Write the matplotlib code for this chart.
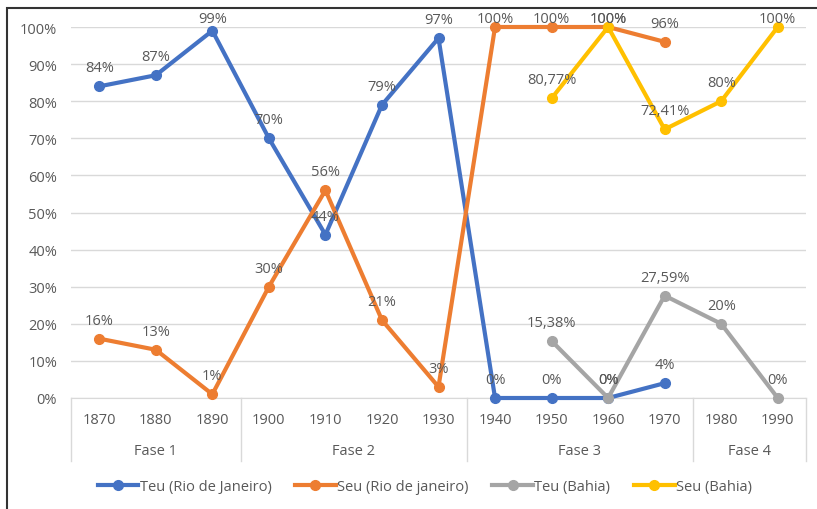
import matplotlib
matplotlib.use("Agg")
import matplotlib.pyplot as plt
import matplotlib.transforms as mtransforms
from matplotlib.patches import Rectangle
import numpy as np

years = ['1870', '1880', '1890', '1900', '1910', '1920', '1930',
         '1940', '1950', '1960', '1970', '1980', '1990']

teu_rio = [84, 87, 99, 70, 44, 79, 97, 0, 0, 0, 4, None, None]
seu_rio = [16, 13, 1, 30, 56, 21, 3, 100, 100, 100, 96, None, None]
teu_bahia = [None, None, None, None, None, None, None, None, 15.38, 0, 27.59, 20, 0]
seu_bahia = [None, None, None, None, None, None, None, None, 80.77, 100, 72.41, 80, 100]

phases = ['Fase 1', 'Fase 2', 'Fase 3', 'Fase 4']
phase_len = [3, 4, 4, 2]

plt.rcParams['font.family'] = ['Open Sans', 'DejaVu Sans']
txt = '#595959'
grid = '#D9D9D9'
fs = 10.5

fig = plt.figure(figsize=(8.17, 5.10), dpi=100)
ax_h = (399 - 28) / 510
ax = fig.add_axes([71/817, 1-399/510, (806-71)/817, ax_h])
ax_h_px = ax_h * 510

x = np.arange(len(years))

def fmt(v):
    if v == int(v):
        return f'{int(v)}%'
    return f'{v:.2f}%'.replace('.', ',')

series = [
    ('Teu (Rio de Janeiro)', teu_rio, '#4472C4'),
    ('Seu (Rio de janeiro)', seu_rio, '#ED7D31'),
    ('Teu (Bahia)', teu_bahia, '#A5A5A5'),
    ('Seu (Bahia)', seu_bahia, '#FFC000'),
]
for name, vals, col in series:
    xs = [i for i, v in enumerate(vals) if v is not None]
    vs = [v for v in vals if v is not None]
    ax.plot(xs, [v / 100 for v in vs], '-o', color=col, lw=3, ms=7, label=name,
            clip_on=False, zorder=3)
    for xi, v in zip(xs, vs):
        # keep labels inside the plot area like excel does
        off_px = min(11, (1 - v / 100) * ax_h_px + 1)
        ax.annotate(fmt(v), (xi, v / 100), xytext=(0, off_px * 0.72), textcoords='offset points',
                    ha='center', va='bottom', fontsize=fs, color=txt, zorder=4)

ax.set_xlim(-0.5, len(years) - 0.5)
ax.set_ylim(0, 1)
yt = np.arange(0, 1.01, 0.1)
ax.set_yticks(yt)
ax.set_yticklabels([f'{int(round(t*100))}%' for t in yt])
ax.yaxis.grid(True, color=grid, lw=1)
ax.set_axisbelow(True)
for s in ['top', 'right', 'left']:
    ax.spines[s].set_visible(False)
ax.spines['bottom'].set_color(grid)
ax.tick_params(axis='y', length=0, colors=txt, labelsize=fs, pad=10)
ax.set_xticks(x)
ax.set_xticklabels(years)
ax.tick_params(axis='x', length=0, colors=txt, labelsize=fs, pad=10)

# phase groups under the years
trans = mtransforms.blended_transform_factory(ax.transData, ax.transAxes)
start = -0.5
bounds = [start]
for name, n in zip(phases, phase_len):
    end = start + n
    ax.text((start + end) / 2, -0.142, name, transform=trans, ha='center', va='center',
            fontsize=fs, color=txt)
    start = end
    bounds.append(end)
for b in bounds:
    ax.plot([b, b], [0, -0.17], transform=trans, color=grid, lw=1, clip_on=False)

fig.legend(loc='center', bbox_to_anchor=(0.52, 1 - 488/510), ncol=4, frameon=False,
           fontsize=fs, labelcolor=txt, handlelength=2.8, handletextpad=0.1,
           columnspacing=1.6)

fig.patches.append(Rectangle((7/817, -0.1), 1.2, 1 - 9/510 + 0.1, transform=fig.transFigure,
                             fill=False, edgecolor='#333333', lw=1.5))

fig.savefig('out.png', dpi=100)
